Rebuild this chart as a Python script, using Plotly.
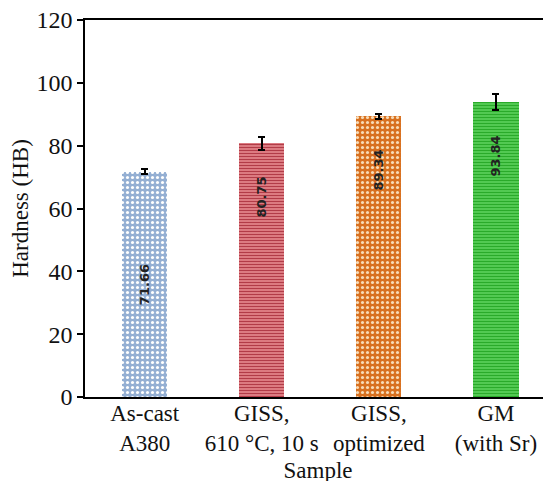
import plotly.graph_objects as go

categories = ["As-cast<br>A380", "GISS,<br>610 °C, 10 s", "GISS,<br>optimized", "GM<br>(with Sr)"]
hardness = [71.66, 80.75, 89.34, 93.84]
errors = [0.8, 2.0, 0.7, 2.5]
value_labels = ["71.66", "80.75", "89.34", "93.84"]
y_ticks = [0, 20, 40, 60, 80, 100, 120]

bg_colors = ["#94afd3", "#ea9094", "#d8701f", "#5fd35f"]
fg_colors = ["#ffffff", "#b23c48", "#f7dcb8", "#2aaa2a"]
shapes = [".", "-", ".", "-"]
label_pos = ["mid", "top", "top", "top"]

SERIF = "Liberation Serif, Times New Roman, serif"
x_idx = list(range(len(categories)))

fig = go.Figure()
for i in x_idx:
    dotted = shapes[i] == "."
    fig.add_trace(go.Bar(
        x=[i], y=[hardness[i]], width=0.385,
        marker=dict(
            color=bg_colors[i],
            line=dict(width=0),
            pattern=dict(shape=shapes[i], fgcolor=fg_colors[i], bgcolor=bg_colors[i],
                          size=5 if dotted else 3, solidity=0.3 if dotted else 0.5,
                          fillmode="replace"),
        ),
        error_y=dict(type="data", array=[errors[i]], color="black", thickness=2, width=3.5),
        showlegend=False,
    ))
    y_lab = hardness[i] / 2 if label_pos[i] == "mid" else hardness[i] - 17
    fig.add_annotation(x=i, y=y_lab, text=value_labels[i], textangle=-90, showarrow=False,
                       font=dict(family="DejaVu Sans", size=13, color="#222222", weight="bold"),
                       xanchor="center", yanchor="middle")

fig.update_layout(
    width=551, height=481,
    margin=dict(l=77, r=8, t=12, b=92),
    paper_bgcolor="white", plot_bgcolor="white",
    font=dict(family=SERIF, size=23, color="#111111"),
    bargap=0,
)
fig.update_xaxes(
    range=[-0.51, 3.47], tickmode="array", tickvals=x_idx, ticktext=categories,
    showline=True, linecolor="black", linewidth=1.5, mirror=True, ticks="",
    showgrid=False, zeroline=False, automargin=False, ticklabelstandoff=-5,
    ticklabeloverflow="allow",
    title=dict(text="Sample", font=dict(family=SERIF, size=23), standoff=7),
    tickfont=dict(family=SERIF, size=23),
)
fig.update_yaxes(
    range=[0, 120], tickmode="array", tickvals=y_ticks,
    showline=True, linecolor="black", linewidth=1.5, mirror=False,
    ticks="outside", ticklen=6, tickwidth=1.5, tickcolor="black",
    showgrid=False, zeroline=False, automargin=False, ticklabeloverflow="allow",
    title=dict(text="Hardness (HB)", font=dict(family=SERIF, size=23), standoff=1),
    tickfont=dict(family=SERIF, size=24),
)

fig.write_html("out.html")
